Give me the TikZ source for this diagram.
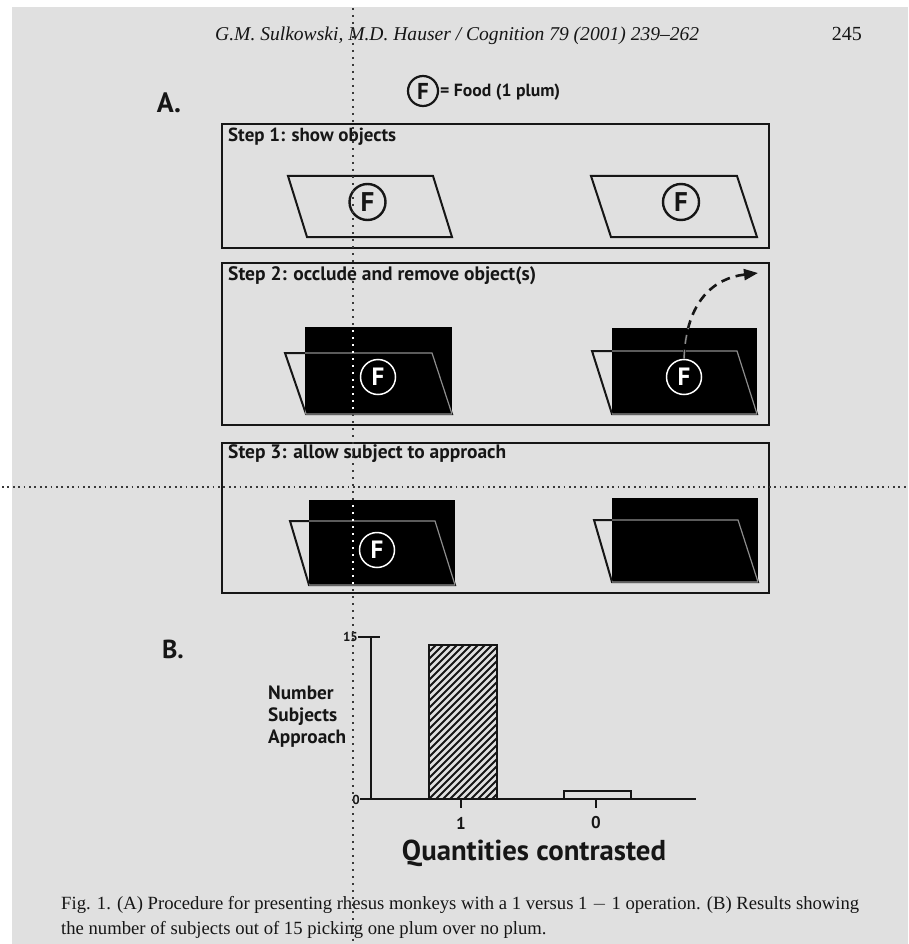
\documentclass[tikz,border=0pt]{standalone}
\usepackage{fontspec}
\setmainfont{Liberation Serif}
\newfontfamily\lab{PT Sans}
\usetikzlibrary{arrows.meta}
\definecolor{paper}{HTML}{E0E0E0}
\definecolor{ink}{HTML}{161616}
\definecolor{innerline}{HTML}{8C8C8C}
\tikzset{
  frame/.style={draw=ink, line width=2pt},
  para/.style={draw=ink, line width=2pt, line join=miter},
  parain/.style={draw=innerline, line width=1.2pt},
  fcirc/.style={circle, draw=ink, line width=2.4pt, minimum size=36pt, inner sep=0pt, text=ink,
    font=\lab\bfseries\fontsize{27}{27}\selectfont},
  fcircw/.style={circle, draw=white, line width=1.5pt, minimum size=35pt, inner sep=0pt, text=white,
    font=\lab\bfseries\fontsize{25}{25}\selectfont},
  steptitle/.style={anchor=west, inner sep=0pt, text=ink, font=\lab\bfseries\fontsize{15}{15}\selectfont},
  axlab/.style={inner sep=0pt, text=ink, font=\lab\bfseries\fontsize{13}{13}\selectfont},
  ticklab/.style={inner sep=0pt, text=ink, font=\lab\bfseries\fontsize{17}{17}\selectfont},
  axis/.style={draw=ink, line width=2.4pt},
  guide/.style={draw=ink!85, line width=1.8pt},
}
\begin{document}
\begin{tikzpicture}[x=1pt,y=-1pt]
\useasboundingbox (0,0) rectangle (908,944);
\fill[paper] (0,0) rectangle (908,944);
\fill[white] (0,0) rectangle (908,7);
\fill[white] (0,0) rectangle (12,944);

% header
\node[anchor=base west, inner sep=0pt, text=ink, font=\fontsize{20}{24}\selectfont\itshape] (hdr) at (215,41)
  {\resizebox{484pt}{!}{G.M. Sulkowski, M.D. Hauser / Cognition 79 (2001) 239--262}};
\node[anchor=base east, inner sep=0pt, text=ink, font=\fontsize{20}{24}\selectfont] (pg) at (862,41) {245};

% panel letters
\node[inner sep=0pt, text=ink, font=\lab\bfseries\fontsize{28}{28}\selectfont] (lA) at (169,103) {A.};
\node[inner sep=0pt, text=ink, font=\lab\bfseries\fontsize{26}{26}\selectfont] (lB) at (173,649) {B.};

% legend
\node[fcirc, minimum size=30pt, line width=2.2pt, font=\lab\bfseries\fontsize{23}{23}\selectfont] (fleg) at (423,91) {F};
\node[anchor=west, inner sep=0pt, text=ink, font=\lab\bfseries\fontsize{12}{12}\selectfont] (legtxt) at (440,92)
  {\resizebox{120pt}{!}{= Food (1 plum)}};

% ---------- Step 1
\draw[frame] (222,124) rectangle (769,248);
\node[steptitle] (t1) at (228,137) {\resizebox{168pt}{!}{Step 1: show objects}};
\draw[para] (288,176) -- (433,176) -- (452,237) -- (307,237) -- cycle;
\draw[para] (591,176) -- (737,176) -- (757,237) -- (611,237) -- cycle;
\node[fcirc] (f1L) at (367.5,202) {F};
\node[fcirc] (f1R) at (681,202) {F};

% ---------- Step 2
\draw[frame] (222,263) rectangle (769,425);
\node[steptitle] (t2) at (228,276) {\resizebox{308pt}{!}{Step 2: occlude and remove object(s)}};
\draw[para] (285,353) -- (432,353) -- (452,414) -- (306,414) -- cycle;
\fill[black] (305,327) rectangle (452,414);
\begin{scope}
  \clip (305,327) rectangle (452,414);
  \draw[parain] (285,353) -- (432,353) -- (452,414) -- (306,414) -- cycle;
\end{scope}
\node[fcircw] (f2L) at (378,377) {F};
\draw[para] (592,351) -- (737,351) -- (757,414) -- (612,414) -- cycle;
\fill[black] (612,328) rectangle (757,414);
\begin{scope}
  \clip (612,328) rectangle (757,414);
  \draw[parain] (592,351) -- (737,351) -- (757,414) -- (612,414) -- cycle;
\end{scope}
\node[fcircw] (f2R) at (684,377) {F};
\coordinate (away) at (758,273);
\draw[ink, line width=2.6pt, dash pattern=on 9pt off 6pt, -{Triangle[length=14pt,width=11pt]}]
  (f2R.north) .. controls (686,300) and (715,278) .. (away);
\begin{scope}
  \clip (612,328) rectangle (757,414);
  \draw[innerline, line width=1.4pt, dash pattern=on 9pt off 6pt]
    (f2R.north) .. controls (686,300) and (715,278) .. (away);
\end{scope}

% ---------- Step 3
\draw[frame] (222,443) rectangle (769,593);
\node[steptitle] (t3) at (228,454) {\resizebox{278pt}{!}{Step 3: allow subject to approach}};
\draw[para] (290,521) -- (435,521) -- (455,585) -- (309,585) -- cycle;
\fill[black] (309,500) rectangle (455,585);
\begin{scope}
  \clip (309,500) rectangle (455,585);
  \draw[parain] (290,521) -- (435,521) -- (455,585) -- (309,585) -- cycle;
\end{scope}
\node[fcircw] (f3L) at (377,550) {F};
\draw[para] (594,520) -- (738,520) -- (758,582) -- (612,582) -- cycle;
\fill[black] (612,498) rectangle (758,582);
\begin{scope}
  \clip (612,498) rectangle (758,582);
  \draw[parain] (594,520) -- (738,520) -- (758,582) -- (612,582) -- cycle;
\end{scope}

% ---------- Chart
\begin{scope}
  \clip (429,645) rectangle (497,799);
  \foreach \k in {0,...,34} \draw[ink, line width=1.8pt] (268+\k*7,799) -- ++(170,-170);
\end{scope}
\draw[axis] (429,645) rectangle (497,799);
\draw[axis] (564,791) rectangle (631,799);
\draw[axis] (371,637) -- (371,799);
\draw[axis] (360,799) -- (696,799);
\draw[axis] (358,637) -- (380,637);
\draw[axis] (461,799) -- (461,808);
\draw[axis] (596,799) -- (596,808);
\node[axlab, anchor=east] (y15) at (358,637) {15};
\node[axlab, anchor=east] (y0) at (360,800) {0};
\node[ticklab] (x1) at (461,823) {1};
\node[ticklab] (x0) at (596,823) {0};
\node[anchor=west, inner sep=0pt, text=ink, font=\lab\bfseries\fontsize{14}{16}\selectfont] (ylab) at (268,717)
  {\resizebox{78pt}{!}{\begin{tabular}{@{}l@{}}Number\\Subjects\\Approach\end{tabular}}};
\node[inner sep=0pt, text=ink, font=\lab\bfseries\fontsize{26}{26}\selectfont] (xlab) at (534,853)
  {\resizebox{264pt}{!}{Quantities contrasted}};

% ---------- caption
\node[anchor=base west, inner sep=0pt, text=ink, font=\fontsize{17}{23}\selectfont] (cap) at (61,909)
  {\resizebox{798pt}{!}{\begin{tabular}[t]{@{}l@{}}Fig. 1. (A) Procedure for presenting rhesus monkeys with a 1 versus 1 $-$ 1 operation. (B) Results showing\\the number of subjects out of 15 picking one plum over no plum.\end{tabular}}};

% ---------- guide dotted lines
\draw[guide, dash pattern=on 1.8pt off 5.2pt] (353,8) -- (353,944);
\draw[guide, dash pattern=on 1.8pt off 3.6pt] (2,487) -- (908,487);
\begin{scope}
  \clip (305,327) rectangle (452,414) (309,500) rectangle (455,585);
  \draw[white, line width=1.8pt, dash pattern=on 1.8pt off 5.2pt] (353,8) -- (353,944);
\end{scope}
\end{tikzpicture}
\end{document}
